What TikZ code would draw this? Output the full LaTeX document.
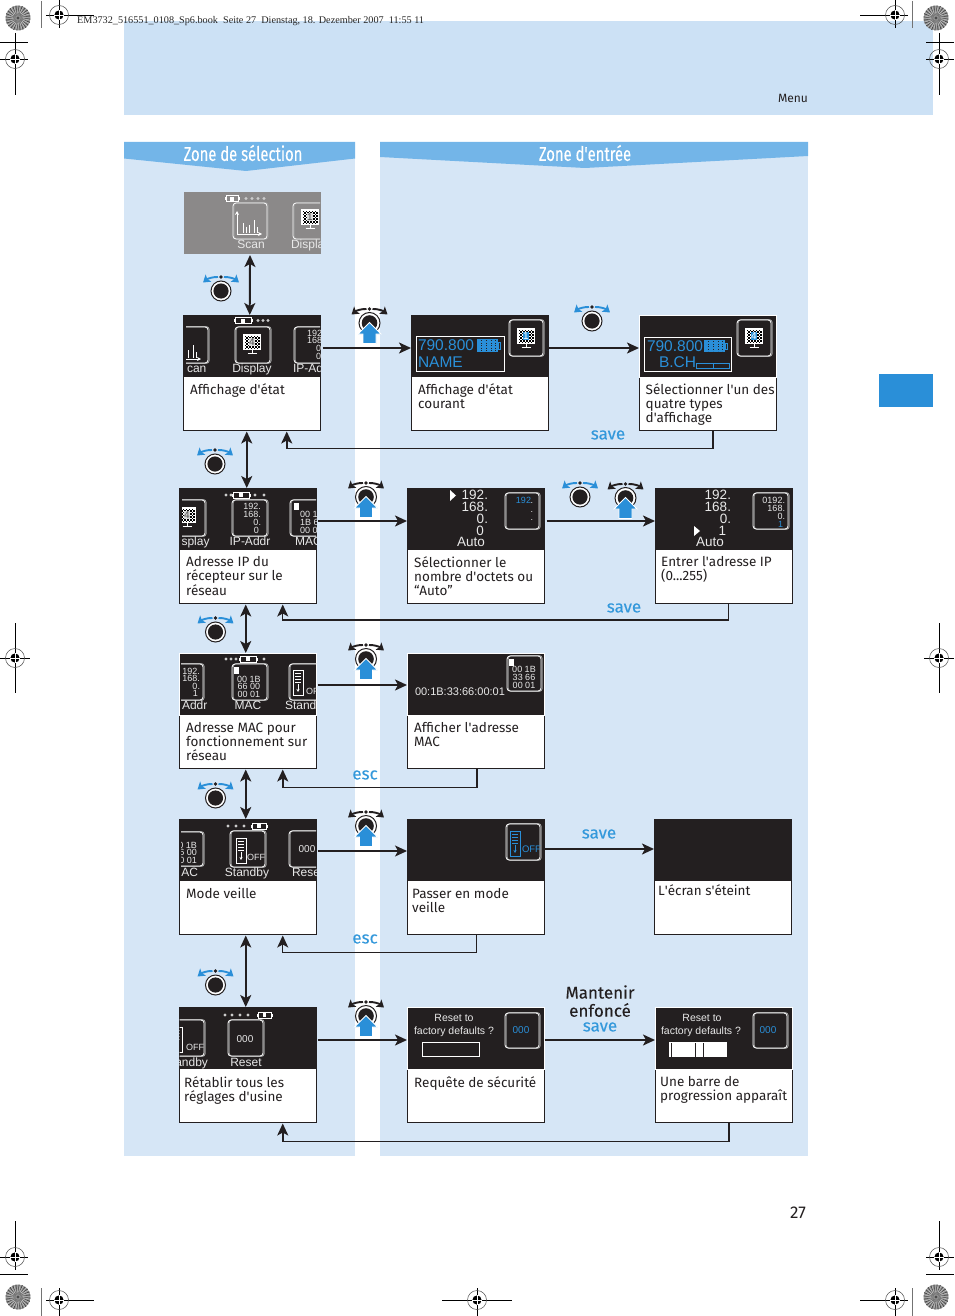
\documentclass[tikz,border=0pt]{standalone}
\usepackage{fontspec}
\usepackage{graphicx}
\setmainfont{Fira Sans}
\newfontfamily\scrf{Liberation Sans}
\newfontfamily\serf{Liberation Serif}
\newfontfamily\boldish{Fira Sans}[FakeBold=0.15]
\usetikzlibrary{arrows.meta,calc}
\definecolor{ink}{HTML}{231F20}
\definecolor{band}{HTML}{CCE1F5}
\definecolor{colbg}{HTML}{D6E6F6}
\definecolor{hdr}{HTML}{73B5E8}
\definecolor{tabc}{HTML}{2A8FD8}
\definecolor{bluet}{HTML}{3398DB}
\definecolor{scrgrey}{HTML}{8B8989}
\definecolor{scrw}{HTML}{E8E8E8}
\definecolor{shadow}{HTML}{9A9A9A}
\newcounter{tn}
\newcommand{\qs}{\textquotesingle{}}
\tikzset{
 capbox/.style={draw=ink,line width=1pt,fill=white,minimum width=137.5pt,minimum height=115.5pt,anchor=north west,inner sep=0,outer sep=0},
 screenbox/.style={fill=ink,minimum width=137.5pt,minimum height=62pt,anchor=north west,inner sep=0,outer sep=0},
 scrtext/.style={inner sep=0,outer sep=0,anchor=base,text=scrw,font=\scrf},
 captext/.style={inner sep=0,anchor=north west,align=left,text=ink},
 lbl/.style={inner sep=0,font=\boldish\fontsize{17}{17}\selectfont},
 conn/.style={draw=ink,line width=1.9pt,-{Stealth[length=12pt,width=11pt,inset=3pt]}},
 connt/.style={draw=ink,line width=1.2pt,-{Stealth[length=12pt,width=11pt,inset=3pt]}},
 dconn/.style={draw=ink,line width=1.9pt,{Stealth[length=12pt,width=11pt,inset=3pt]}-{Stealth[length=12pt,width=11pt,inset=3pt]}},
 regline/.style={draw=black,line width=.8pt},
}
% text in a screen: [opts]{x}{y}{size}{text}
\newcommand{\tx}[5][]{\stepcounter{tn}\node[scrtext,yshift={-0.36*#4},#1] (t\arabic{tn}) at (#2,#3) {\fontsize{#4}{#4}\selectfont #5};}
% panel: name, x, y
\newcommand{\panel}[4][]{%
 \node[capbox] (#2C) at (#3,#4) {};
 \node[screenbox,#1] (#2S) at (#3,#4) {};}
\newcommand{\capt}[4]{\stepcounter{tn}\node[captext,font=\fontsize{13.5}{#3}\selectfont] (c\arabic{tn}) at (#1,#2) {#4};}
% icon frame
\newcommand{\frm}[4]{%
 \draw[shadow,line width=1pt,rounded corners=3pt] (#1+1.2,#2-.4) rectangle (#3+1.2,#4+.4);
 \draw[white,line width=.8pt,rounded corners=3pt] (#1,#2) rectangle (#3,#4);}
\newcommand{\batt}[3]{% x,y,w
 \draw[white,line width=.9pt] (#1,#2-3) rectangle (#1+#3,#2+3);
 \fill[white] (#1-1.5,#2-1.5) rectangle (#1,#2+1.5);
 \fill[white] (#1+#3,#2-1.5) rectangle (#1+#3+1.5,#2+1.5);
 \fill[white] (#1+#3*.35,#2-2) rectangle (#1+#3*.65,#2+2);}
\newcommand{\stardots}[2]{\foreach \sx in {#1} {\fill[white!80!black] (\sx,#2) circle (1.7pt);}}
\newcommand{\chip}[3][white]{\fill[#1] (#2-2.5,#3-3.5) rectangle (#2+2.5,#3+3.5);}
\newcommand{\monitor}[4]{% cx, top y, digit options, digit
 \fill[white] (#1-9,#2-1) rectangle (#1+9,#2+15);
 \foreach \mi in {0,...,9}{\foreach \mj in {0,...,8}{%
  \pgfmathparse{int(mod(\mi+\mj,2))}\ifnum\pgfmathresult=0 \fill[black] (#1-7.5+\mi*1.5,#2+.5+\mj*1.5) rectangle ++(1.5,1.5);\fi}}
 \draw[white,line width=1pt] (#1,#2+15) -- (#1,#2+18) (#1-4.5,#2+18.5) -- (#1+4.5,#2+18.5);
 \tx[#3]{#1}{#2+7}{10}{#4}}
\tikzset{dgrey/.style={text=black!70,fill=white!85!black,inner sep=.4pt},dblue/.style={text=white,fill=tabc,inner sep=.4pt}}
\newcommand{\standby}[3]{% x,y,colour
 \draw[#3,line width=.8pt] (#1,#2) rectangle (#1+10,#2+25);
 \draw[#3,line width=.7pt] (#1+2,#2+3) -- (#1+8,#2+3) (#1+2,#2+6) -- (#1+8,#2+6) (#1+2,#2+9) -- (#1+8,#2+9) (#1+2,#2+12) -- (#1+8,#2+12);
 \draw[#3,line width=.7pt,-{Stealth[length=3pt,width=3pt]}] (#1+5,#2+14) -- (#1+5,#2+22);}
\newcommand{\chart}[2]{% x,y: top left of glyph
 \draw[white,line width=.7pt,{Stealth[length=4pt,width=4pt]}-{Stealth[length=4pt,width=4pt]}] (#1,#2) -- (#1,#2+23) -- (#1+25,#2+23);
 \draw[white,line width=.7pt] (#1+6,#2+22)--(#1+6,#2+12) (#1+9,#2+22)--(#1+9,#2+16) (#1+12,#2+22)--(#1+12,#2+14) (#1+17,#2+22)--(#1+17,#2+9) (#1+20,#2+22)--(#1+20,#2+16);}
% knobs
\newcommand{\arcs}[1]{%
 \draw[#1,line width=1.9pt,-{Stealth[length=7pt,width=9pt,inset=1.5pt]}] (-3,0) .. controls (-8,-.2) and (-13,1.5) .. (-18,5.5);
 \draw[#1,line width=1.9pt,-{Stealth[length=7pt,width=9pt,inset=1.5pt]}] (3,0) .. controls (8,-.2) and (13,1.5) .. (18,5.5);
 \fill[ink] (0,0) circle (1.9pt);}
\newcommand{\turnk}[2]{\begin{scope}[shift={(#1,#2)}]
 \arcs{tabc}
 \draw[ink,fill=white,line width=1pt] (0,14) circle (10pt);
 \fill[ink] (0,14) circle (7.6pt);
\end{scope}}
\newcommand{\pressk}[2]{\begin{scope}[shift={(#1,#2)}]
 \arcs{ink}
 \draw[ink,fill=white,line width=1pt] (0,14) circle (10.5pt);
 \fill[ink] (0,14) circle (7.8pt);
 \draw[white,fill=tabc,line width=.9pt,line join=miter] (0,13.5) -- (11.5,25) -- (6.5,25) -- (6.5,34.5) -- (-6.5,34.5) -- (-6.5,25) -- (-11.5,25) -- cycle;
\end{scope}}
% registration marks
\newcommand{\target}[6]{% cx cy x1 x2 y1 y2
 \draw[regline] (#3,#2) -- (#4,#2) (#1,#5) -- (#1,#6);
 \draw[black!70,line width=.5pt] (#1,#2) circle (9.5pt);
 \fill[black] (#1,#2) circle (4.6pt);
 \draw[white,line width=.5pt] (#1-4.6,#2) -- (#1+4.6,#2) (#1,#2-4.6) -- (#1,#2+4.6);}
\newcommand{\radial}[2]{%
 \fill[black!42] (#1,#2) circle (12.5pt);
 \foreach \ra in {0,15,...,345} {\fill[black!72] (#1,#2) ++(\ra:2.5) -- ($(#1,#2)+(\ra+3:12.5)$) -- ($(#1,#2)+(\ra+8:12.5)$) -- cycle;}
 \foreach \ra in {7,22,...,352} {\draw[white!80!black,line width=.4pt] ($(#1,#2)+(\ra:5)$) -- ($(#1,#2)+(\ra+3:12)$);}
 \fill[black!70] (#1,#2) circle (1.6pt);}
\begin{document}
\begin{tikzpicture}[x=1pt,y=-1pt]
\useasboundingbox (0,0) rectangle (954,1316);
\fill[white] (0,0) rectangle (954,1316);
% backgrounds
\fill[band] (124,21) rectangle (933,115);
\fill[colbg] (124,142) rectangle (355,1156);
\fill[colbg] (380,142) rectangle (808,1156);
\fill[hdr] (124,142) -- (355,142) -- (355,158.5) -- (246,171) -- (124,158.5) -- cycle;
\fill[hdr] (380,142) -- (808,142) -- (808,156) -- (585,168) -- (380,157) -- cycle;
\fill[tabc] (879,374) rectangle (933,407);
\node[inner sep=0,text=white,font=\boldish\fontsize{20}{20}\selectfont] (hdrA) at (243,153) {\scalebox{.74}[1]{Zone de sélection}};
\node[inner sep=0,text=white,font=\boldish\fontsize{20}{20}\selectfont] (hdrB) at (585,153) {\scalebox{.74}[1]{Zone d\qs entrée}};
\node[inner sep=0,anchor=base west,text=black!85,font=\serf\fontsize{10.2}{10.2}\selectfont] (topline) at (77,24) {EM3732\_516551\_0108\_Sp6.book\ \ Seite 27\ \ Dienstag, 18. Dezember 2007\ \ 11:55 11};
\node[inner sep=0,text=ink,font=\fontsize{12}{12}\selectfont] (menu) at (793,98) {Menu};
\node[inner sep=0,text=ink,font=\fontsize{17}{17}\selectfont] (pageno) at (798,1213) {27};
% registration marks
\radial{18}{18}\radial{936}{18}\radial{18}{1297}\radial{936}{1297}
\target{59}{15}{46}{94}{0}{28}
\target{895}{15}{860}{908}{0}{28}
\target{15}{59}{0}{28}{33}{95}
\target{939}{59}{926}{954}{33}{95}
\target{15}{658}{0}{30}{623}{693}
\target{939}{658}{924}{954}{623}{693}
\target{15}{1257}{0}{28}{1221}{1270}
\target{939}{1257}{926}{954}{1221}{1270}
\target{59}{1300}{46}{94}{1288}{1316}
\target{477}{1300}{442}{512}{1288}{1316}
\target{895}{1300}{860}{908}{1288}{1316}
\draw[black!55,line width=.7pt] (41,1) -- (41,28) (912,1) -- (912,28) (41,1288) -- (41,1316) (912,1288) -- (912,1316);
\draw[black,line width=.7pt] (0,42) -- (28,42) (926,42) -- (954,42) (0,1274) -- (28,1274) (926,1274) -- (954,1274);
% panels
\node[screenbox,fill=scrgrey,minimum width=137pt] (scan) at (184,192) {};
\panel{pa}{183}{315}
\panel{pb}{411}{315}
\panel[draw=white,line width=.8pt]{pc}{639}{315}
\panel{qa}{179}{488}
\panel{qb}{407}{488}
\panel{qc}{655}{488}
\panel[draw=white,line width=.8pt]{ra}{179}{653}
\panel[draw=white,line width=.8pt]{rb}{407}{653}
\panel{sa}{179}{819}
\panel{sb}{407}{819}
\panel{sc}{654}{819}
\panel{ta}{179}{1007}
\panel[draw=white,line width=.6pt]{tb}{407}{1007}
\panel[draw=white,line width=.6pt]{tc}{655}{1007}
% scan screen
\begin{scope}
\clip (186,192) rectangle (320,254);
\batt{226}{198.5}{12}\stardots{246,252,258,264}{198.5}
\frm{233}{203}{267}{239}\chart{237}{211}
\tx{251}{244}{12}{Scan}
\frm{293}{203}{340}{239}\monitor{310}{210}{dgrey}{1}
\tx[anchor=base west]{291}{244}{12}{Display}
\end{scope}
% pa
\begin{scope}
\clip (186,315) rectangle (320,377);
\batt{235}{320.5}{16}\stardots{258,263,268}{320.5}
\frm{170}{327}{208}{363}\chart{176}{336}
\tx[anchor=base west]{187}{368}{12}{can}
\frm{235}{327}{270}{363}\monitor{252}{335}{dgrey}{4}
\tx{252}{368}{12}{Display}
\frm{294}{327}{340}{363}
\tx[anchor=base west]{307}{333}{9}{192.}\tx[anchor=base west]{307}{340}{9}{168.}\tx[anchor=base west]{316}{348}{9}{0.}\tx[anchor=base west]{316}{356}{9}{0}
\tx[anchor=base west]{293}{368}{12}{IP-Addr}
\end{scope}
% pb
\draw[white,line width=.9pt] (416,336) rectangle (504,371);
\tx[anchor=base west,text=tabc]{418}{345}{15.5}{790.800}
\fill[tabc] (477,339) rectangle (498,352);\draw[tabc,line width=.7pt] (498,342) rectangle (500.5,349);
\foreach \bx in {481,486,491,495}{\draw[ink,line width=.5pt,dotted] (\bx,340) -- (\bx,351);}
\tx[anchor=base west,text=tabc]{418}{362}{15.5}{NAME}
\frm{509}{320}{543}{356}\monitor{526}{329}{dblue}{1}
% pc
\draw[white,line width=.9pt] (644,337) rectangle (731,371);
\tx[anchor=base west,text=tabc]{647}{346}{15.5}{790.800}
\fill[tabc] (704,340) rectangle (725,352);\draw[tabc,line width=.7pt] (725,343) rectangle (727.5,349);
\foreach \bx in {708,713,718,722}{\draw[ink,line width=.5pt,dotted] (\bx,341) -- (\bx,351);}
\tx[anchor=base west,text=tabc]{659}{362}{15.5}{B.CH}
\draw[tabc,line width=.7pt] (696,363) rectangle (729,368) (713,363) -- (713,368);
\frm{737}{320}{771}{356}\monitor{754}{329}{dblue}{4}
% qa
\begin{scope}
\clip (182,488) rectangle (316,550);
\batt{233}{495}{16}\stardots{226,231,255,264}{495}
\frm{170}{500}{205}{536}\monitor{187}{508}{dgrey}{4}
\tx[anchor=base west]{181.5}{541}{12}{splay}
\frm{232}{500}{267}{536}
\tx[anchor=base east]{261}{506}{9}{192.}\tx[anchor=base east]{261}{514}{9}{168.}\tx[anchor=base east]{261}{522}{9}{0.}\tx[anchor=base east]{259}{530}{9}{0}
\tx{250}{541}{12}{IP-Addr}
\frm{290}{500}{340}{536}\chip{296}{506}
\tx[anchor=base west]{300}{514}{9}{00 1B}\tx[anchor=base west]{300}{522}{9}{1B 66}\tx[anchor=base west]{300}{530}{9}{00 01}
\tx[anchor=base west]{295}{541}{12}{MAC}
\end{scope}
% qb
\fill[white] (450,490) -- (456,495.5) -- (450,501) -- cycle;
\tx[anchor=base east]{488}{495}{13.5}{192.}\tx[anchor=base east]{488}{507}{13.5}{168.}\tx[anchor=base east]{488}{519}{13.5}{0.}\tx[anchor=base east]{484}{531}{13.5}{0}\tx{471}{542}{13.5}{Auto}
\frm{505}{493}{539}{529}
\tx[anchor=base east,text=tabc]{531}{500}{9}{192}\tx[anchor=base east]{533}{500}{9}{.}\tx[anchor=base east]{533}{509}{9}{.}\tx[anchor=base east]{533}{517}{9}{.}
% qc
\fill[white] (694,526) -- (700,531) -- (694,536) -- cycle;
\tx[anchor=base east]{731}{495}{13.5}{192.}\tx[anchor=base east]{731}{507}{13.5}{168.}\tx[anchor=base east]{731}{519}{13.5}{0.}\tx[anchor=base east]{726}{531}{13.5}{1}\tx{710}{542}{13.5}{Auto}
\frm{753}{493}{788}{529}
\tx[anchor=base east]{785}{500}{9}{0192.}\tx[anchor=base east]{785}{508}{9}{168.}\tx[anchor=base east]{785}{516}{9}{0.}\tx[anchor=base east,text=tabc]{783}{524}{9}{1}
% ra
\begin{scope}
\clip (181,653) rectangle (316,714);
\batt{240}{659}{16}\stardots{226,231,236,264}{659}
\frm{170}{664}{203}{700}
\tx[anchor=base east]{200}{671}{9}{192.}\tx[anchor=base east]{200}{678}{9}{168.}\tx[anchor=base east]{200}{686}{9}{0.}\tx[anchor=base east]{198}{693}{9}{1}
\tx[anchor=base west]{182}{705}{12}{Addr}
\frm{232}{664}{267}{700}\chip{236}{670}
\tx{249}{679}{9}{00 1B}\tx{249}{686}{9}{66 00}\tx{249}{694}{9}{00 01}
\tx{248}{705}{12}{MAC}
\frm{289}{664}{340}{700}\standby{293}{670}{white}
\tx[anchor=base west]{306}{691}{9}{OFF}
\tx[anchor=base west]{285}{705}{12}{Standby}
\end{scope}
% rb
\frm{507}{656}{541}{691}\chip{511}{662}
\tx{524}{669}{9}{00 1B}\tx{524}{677}{9}{33 66}\tx{524}{685}{9}{00 01}
\tx[anchor=base west]{415}{692}{11}{00:1B:33:66:00:01}
% sa
\begin{scope}
\clip (181,819) rectangle (316,881);
\batt{252}{826}{14}\stardots{228,236,244}{826}
\frm{170}{832}{203}{866}
\tx[anchor=base east]{197}{845}{9}{00 1B}\tx[anchor=base east]{197}{852}{9}{66 00}\tx[anchor=base east]{197}{860}{9}{00 01}
\tx[anchor=base east]{198}{872}{12}{MAC}
\frm{230}{831}{265}{867}\standby{236}{838}{white}
\tx[anchor=base west]{247}{857}{9}{OFF}
\tx{247}{872}{12}{Standby}
\frm{289}{831}{340}{867}\tx{307}{849}{10}{000}
\tx[anchor=base west]{292}{872}{12}{Reset}
\end{scope}
% sb
\frm{506}{824}{540}{860}\standby{510}{831}{tabc}
\tx[anchor=base west,text=tabc]{522}{849}{9.5}{OFF}
% ta
\begin{scope}
\clip (179.5,1007) rectangle (316,1069);
\batt{258}{1015}{13}\stardots{225,232,240,248}{1015}
\frm{170}{1020}{204}{1056}\standby{172}{1027}{white}
\tx[anchor=base west]{186}{1047}{9}{OFF}
\tx[anchor=base east]{208}{1062}{12}{Standby}
\frm{228}{1020}{263}{1056}\tx{245}{1039}{10}{000}
\tx{246}{1062}{12}{Reset}
\end{scope}
% tb
\tx{454}{1018}{10.5}{Reset to}\tx{454}{1031}{10.5}{factory defaults ?}
\draw[white,line width=.9pt] (422,1042.5) rectangle (479,1056);
\frm{505}{1013}{539}{1048}\tx[text=tabc]{521}{1030}{10}{000}
% tc
\tx{702}{1018}{10.5}{Reset to}\tx{701}{1031}{10.5}{factory defaults ?}
\fill[white] (669,1042) rectangle (727,1056.5);
\draw[ink,line width=.8pt] (671,1043) -- (671,1056.5) (695,1043) -- (695,1056.5) (703,1043) -- (703,1056.5);
\frm{753}{1013}{787}{1048}\tx[text=tabc]{768}{1030}{10}{000}
% captions
\capt{190}{383}{14.4}{Affichage d\qs état}
\capt{418}{383}{14.4}{Affichage d\qs état\\courant}
\capt{645.5}{383}{14.4}{Sélectionner l\qs un des\\quatre types\\d\qs affichage}
\capt{186}{556}{14.4}{Adresse IP du\\récepteur sur le\\réseau}
\capt{414}{556}{14.4}{Sélectionner le\\nombre d\qs octets ou\\``Auto''}
\capt{661}{556}{14.4}{Entrer l\qs adresse IP\\(0.{}.{}.255)}
\capt{186}{722}{14.2}{Adresse MAC pour\\fonctionnement sur\\réseau}
\capt{414}{722}{14.2}{Afficher l\qs adresse\\MAC}
\capt{186}{888}{14.4}{Mode veille}
\capt{412}{888}{14.2}{Passer en mode\\veille}
\capt{658}{884}{14.4}{L\qs écran s\qs éteint}
\capt{184}{1076}{14.2}{Rétablir tous les\\réglages d\qs usine}
\capt{414}{1076}{14.2}{Requête de sécurité}
\capt{660}{1076}{14.2}{Une barre de\\progression apparaît}
% vertical double arrows
\draw[dconn] ([xshift=-2.5]scan.south) ++(0,1) -- ([xshift=-2]paS.north);
\draw[dconn] ([xshift=-5]paC.south) ++(0,1) -- ([xshift=-1]qaS.north);
\draw[dconn] ([xshift=-2]qaC.south) ++(0,1) -- ([xshift=-2]raS.north);
\draw[dconn] ([xshift=-2]raC.south) ++(0,1) -- ([xshift=-2]saS.north);
\draw[dconn] ([xshift=-2]saC.south) ++(0,1) -- ([xshift=-2]taS.north);
% forward arrows
\draw[conn] ([xshift=2,yshift=-2]paS.east) -- ([yshift=-2]pbS.west);
\draw[conn] ([yshift=-2]pbS.east) -- ([yshift=-2]pcS.west);
\draw[conn] ([xshift=1,yshift=-2]qaS.east) -- ([yshift=-2]qbS.west);
\draw[conn] ([xshift=2,yshift=-2]qbS.east) -- ([yshift=-2]qcS.west);
\draw[conn] ([xshift=1,yshift=-1]raS.east) -- ([yshift=-1]rbS.west);
\draw[connt] ([xshift=1,yshift=-1]saS.east) -- ([yshift=-1]sbS.west);
\draw[conn] ([yshift=1]sbS.east) -- ([yshift=1]scS.west);
\draw[conn] ([xshift=1,yshift=-2]taS.east) -- ([yshift=-2]tbS.west);
\draw[conn] ([yshift=-2]tbS.east) -- ([yshift=-2]tcS.west);
% return arrows
\draw[conn] ([xshift=5]pcC.south) -- ++(0,18) -| ([xshift=35,yshift=-1]paC.south);
\draw[connt] ([xshift=5]qcC.south) -- ++(0,16.5) -| ([xshift=35,yshift=-1]qaC.south);
\draw[conn] ([xshift=1]rbC.south) -- ++(0,19) -| ([xshift=35,yshift=-1]raC.south);
\draw[connt] ([xshift=1]sbC.south) -- ++(0,18) -| ([xshift=35,yshift=-1]saC.south);
\draw[conn] ([xshift=5]tcC.south) -- ++(0,19) -| ([xshift=35,yshift=-1]taC.south);
% knobs
\turnk{221}{277}\turnk{592}{307}\turnk{215}{450}\turnk{580}{483}\turnk{215.5}{618}\turnk{215.5}{784}\turnk{215.5}{971}
\pressk{369.5}{309}\pressk{366}{483}\pressk{625.5}{484}\pressk{366}{645}\pressk{366}{812}\pressk{366}{1002}
% labels
\node[lbl,text=bluet] (la) at (608,435) {save};
\node[lbl,text=bluet] (lb) at (624,608) {save};
\node[lbl,text=bluet] (lc) at (365,775) {esc};
\node[lbl,text=bluet] (ld) at (365,939) {esc};
\node[lbl,text=bluet] (le) at (599,834) {save};
\node[lbl,text=ink] (lf) at (600,992) {Mantenir};
\node[lbl,text=ink] (lg) at (600,1010) {enfoncé};
\node[lbl,text=bluet] (lh) at (600,1027) {save};
\end{tikzpicture}
\end{document}
